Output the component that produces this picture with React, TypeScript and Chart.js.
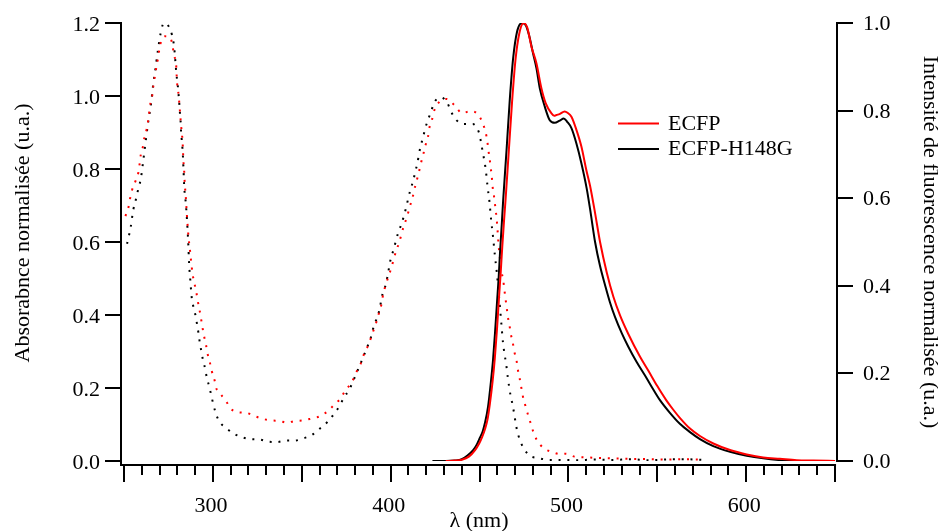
import React, { useEffect, useRef } from 'react';
import { Chart, registerables } from 'chart.js';

Chart.register(...registerables);

// ---------- DATA ----------
// Absorbance (left axis), ECFP (red dotted)
const absEcfpNm = [250.8, 252.5, 253.4, 254.5, 256.4, 258.1, 258.8, 259.4, 260.7, 261.5, 262.8, 263.7, 264.9, 266, 266.5, 267.3, 268.2, 269.1, 269.9, 271, 273.8, 276.1, 277.4, 278.1, 279.3, 279.8, 280.4, 280.9, 281.3, 281.7, 282.1, 282.6, 283, 283.2, 283.4, 283.8, 284, 284.3, 284.7, 285, 285.3, 286, 286.4, 287, 287.5, 288.6, 289.6, 290.7, 291.5, 292.4, 293.3, 294.1, 295, 296.1, 296.9, 298.3, 299.4, 300.9, 302, 304.2, 306.7, 308.5, 310, 313.6, 318.6, 323.5, 328.4, 333.3, 337.4, 341.7, 345.6, 350.4, 355.2, 359.9, 365, 368.4, 371.4, 374.5, 378.3, 380.4, 383, 384.7, 386.9, 388.8, 390.5, 392.2, 393.5, 395, 395.8, 397.2, 398.7, 400.4, 401.7, 403.2, 404.9, 406.2, 407.7, 409.4, 410.7, 412.3, 413.4, 414.7, 416, 417.1, 418.4, 419.6, 421, 421.8, 423.3, 424.6, 427.6, 431.5, 436.2, 440.2, 445, 449.4, 451.9, 453.5, 454.4, 455, 455.7, 456.3, 456.9, 457.3, 458, 458.6, 459.2, 459.7, 460.1, 460.4, 460.8, 461.6, 462.5, 463.4, 464, 464.6, 465.3, 465.9, 466.8, 467.6, 468.7, 469.6, 470.8, 471.5, 472.5, 473.4, 474.3, 475.6, 477, 478.6, 480.1, 482.2, 486.1, 490.8, 495.3, 498.5, 503.4, 510, 518, 525, 535, 545, 555, 565, 574];
const absEcfpVal = [0.671, 0.695, 0.719, 0.742, 0.766, 0.791, 0.815, 0.838, 0.863, 0.887, 0.91, 0.936, 0.982, 1.005, 1.028, 1.053, 1.079, 1.103, 1.128, 1.152, 1.164, 1.159, 1.135, 1.111, 1.087, 1.039, 1.016, 0.992, 0.968, 0.943, 0.919, 0.895, 0.87, 0.847, 0.823, 0.799, 0.775, 0.751, 0.727, 0.703, 0.679, 0.631, 0.607, 0.583, 0.558, 0.512, 0.487, 0.462, 0.438, 0.416, 0.391, 0.367, 0.343, 0.319, 0.296, 0.27, 0.246, 0.222, 0.198, 0.184, 0.168, 0.156, 0.144, 0.134, 0.132, 0.123, 0.115, 0.111, 0.11, 0.105, 0.109, 0.111, 0.116, 0.122, 0.138, 0.155, 0.169, 0.193, 0.217, 0.241, 0.265, 0.289, 0.312, 0.336, 0.36, 0.384, 0.407, 0.433, 0.458, 0.481, 0.505, 0.529, 0.553, 0.577, 0.6, 0.624, 0.648, 0.672, 0.696, 0.721, 0.745, 0.769, 0.794, 0.817, 0.841, 0.865, 0.888, 0.913, 0.936, 0.961, 0.985, 0.992, 0.973, 0.953, 0.959, 0.948, 0.924, 0.899, 0.875, 0.851, 0.827, 0.803, 0.779, 0.754, 0.731, 0.707, 0.683, 0.659, 0.636, 0.612, 0.588, 0.55, 0.516, 0.493, 0.468, 0.445, 0.42, 0.396, 0.373, 0.348, 0.324, 0.299, 0.276, 0.252, 0.228, 0.204, 0.179, 0.155, 0.131, 0.106, 0.082, 0.058, 0.035, 0.025, 0.019, 0.02, 0.012, 0.01, 0.008, 0.007, 0.006, 0.005, 0.004, 0.005, 0.004];

// Absorbance (left axis), ECFP-H148G (black dotted)
const absH148GNm = [251.7, 252.8, 253.8, 254.5, 255.3, 256.6, 258, 259.5, 261, 262.4, 263.7, 265.2, 266.3, 267.7, 269, 270.6, 271.8, 273.4, 275.1, 277, 278, 278.5, 278.9, 279.3, 279.8, 280.4, 280.8, 281.2, 281.5, 281.9, 282.1, 282.5, 282.9, 283.2, 283.4, 283.6, 283.8, 284.1, 284.7, 285.1, 285.4, 285.7, 286.2, 286.6, 287.3, 288.1, 289, 290.3, 291.1, 291.9, 292.6, 293.5, 294.4, 295.6, 296.5, 297.8, 299, 300.1, 301.5, 303.4, 307.6, 311.8, 316.5, 321.3, 326.3, 331.3, 336.2, 341.2, 346, 350.8, 355.6, 360.4, 364.3, 368.3, 371.3, 373.8, 376.6, 378.8, 380.9, 383, 385, 386.9, 388.8, 390.1, 391.8, 393.5, 395.4, 397.1, 398.2, 399.1, 400, 401.6, 402.9, 404.2, 406.1, 407.6, 408.9, 410, 411.3, 412.8, 413.9, 415.1, 416, 417.1, 418.4, 419.6, 421.3, 423, 425, 428.4, 432, 434, 437, 441.1, 446.2, 449.6, 450.7, 451.6, 452.5, 453.3, 453.9, 454.4, 455, 455.6, 456.5, 457.6, 458.6, 459.7, 460.6, 461.5, 462.3, 463.2, 464.2, 465, 465.9, 466.6, 467.4, 468.5, 469.4, 470.2, 471.1, 472.6, 474.7, 478.2, 483.3, 488.8, 495, 505, 515, 525, 535, 545, 555, 565, 575.5];
const absH148GVal = [0.595, 0.618, 0.642, 0.666, 0.69, 0.715, 0.745, 0.775, 0.83, 0.884, 0.932, 0.979, 1.027, 1.075, 1.123, 1.172, 1.195, 1.2, 1.191, 1.167, 1.142, 1.119, 1.094, 1.07, 1.046, 1.021, 0.997, 0.973, 0.95, 0.925, 0.901, 0.878, 0.854, 0.829, 0.806, 0.782, 0.758, 0.735, 0.71, 0.685, 0.662, 0.638, 0.59, 0.542, 0.495, 0.447, 0.423, 0.397, 0.374, 0.35, 0.325, 0.301, 0.277, 0.254, 0.23, 0.206, 0.182, 0.158, 0.133, 0.11, 0.09, 0.075, 0.065, 0.06, 0.059, 0.053, 0.052, 0.056, 0.056, 0.062, 0.071, 0.09, 0.106, 0.13, 0.151, 0.175, 0.194, 0.218, 0.242, 0.266, 0.29, 0.313, 0.337, 0.362, 0.386, 0.41, 0.457, 0.481, 0.505, 0.53, 0.553, 0.578, 0.602, 0.625, 0.649, 0.674, 0.698, 0.722, 0.746, 0.77, 0.794, 0.817, 0.843, 0.867, 0.89, 0.914, 0.938, 0.962, 0.986, 0.996, 0.98, 0.957, 0.934, 0.923, 0.923, 0.901, 0.877, 0.852, 0.828, 0.805, 0.781, 0.757, 0.733, 0.71, 0.661, 0.614, 0.565, 0.517, 0.47, 0.421, 0.375, 0.324, 0.289, 0.265, 0.229, 0.205, 0.181, 0.156, 0.132, 0.108, 0.084, 0.059, 0.036, 0.015, 0.008, 0.003, 0.003, 0.002, 0.004, 0.003, 0.005, 0.002, 0.004, 0.005, 0.003];

// Fluorescence emission (right axis), ECFP (red solid)
const emEcfpNm = [431, 436, 440, 444, 447.5, 449.8, 451.5, 453, 454.5, 455.8, 457.3, 458.6, 459.8, 460.9, 461.9, 462.8, 463.8, 464.7, 466.5, 468.3, 470.2, 472.3, 474.8, 476.8, 479.2, 482, 484.8, 487.2, 490.4, 492, 493.3, 495, 497.9, 499.5, 501.7, 504.5, 507.3, 510.1, 512.2, 515, 517.8, 521.6, 525.3, 529.1, 533.7, 540.3, 545, 550, 555, 559, 562.8, 568.4, 574, 581.5, 590.9, 600.3, 609.6, 619, 628.4, 637.8, 650];
const emEcfpVal = [0, 0.001, 0.003, 0.01, 0.025, 0.04, 0.055, 0.072, 0.095, 0.13, 0.18, 0.235, 0.3, 0.37, 0.43, 0.49, 0.55, 0.6, 0.71, 0.82, 0.915, 0.975, 1.0, 0.99, 0.946, 0.908, 0.851, 0.817, 0.794, 0.788, 0.79, 0.792, 0.798, 0.795, 0.786, 0.756, 0.718, 0.664, 0.628, 0.566, 0.5, 0.43, 0.375, 0.332, 0.29, 0.238, 0.206, 0.171, 0.139, 0.117, 0.098, 0.074, 0.057, 0.04, 0.025, 0.015, 0.008, 0.005, 0.002, 0.001, 0];

// Fluorescence emission (right axis), ECFP-H148G (black solid)
const emH148GNm = [423.5, 431, 436, 440, 443, 446.4, 448.5, 450.1, 451.8, 453, 454.8, 456.3, 457.6, 458.7, 459.8, 460.8, 461.5, 462.5, 463.3, 465.2, 467, 468.9, 471.1, 473.9, 476, 477.8, 480.1, 482, 483.9, 486.7, 489.5, 492.3, 495.1, 497.4, 499.2, 501.7, 504.5, 507.3, 510.3, 512.2, 515, 517.8, 520.6, 523.4, 526.2, 530, 533.7, 538.4, 543.1, 545.9, 551.5, 557.1, 562.7, 568.4, 574, 581.5, 590.9, 600.3, 609.6, 619, 628.4, 650];
const emH148GVal = [0, 0, 0.001, 0.004, 0.012, 0.025, 0.038, 0.052, 0.068, 0.086, 0.124, 0.177, 0.231, 0.292, 0.36, 0.421, 0.474, 0.54, 0.596, 0.71, 0.824, 0.919, 0.98, 1.0, 0.995, 0.973, 0.931, 0.897, 0.851, 0.809, 0.778, 0.772, 0.777, 0.782, 0.775, 0.76, 0.725, 0.68, 0.622, 0.575, 0.5, 0.445, 0.402, 0.362, 0.329, 0.292, 0.261, 0.226, 0.195, 0.176, 0.139, 0.11, 0.085, 0.066, 0.05, 0.034, 0.021, 0.012, 0.006, 0.002, 0, 0];

// Axis ticks / labels
const xMinorTicks = [250, 260, 270, 280, 290, 300, 310, 320, 330, 340, 350, 360, 370, 380, 390, 400, 410, 420, 430, 440, 450, 460, 470, 480, 490, 500, 510, 520, 530, 540, 550, 560, 570, 580, 590, 600, 610, 620, 630, 640, 650];
const xLabelTicks = [300, 400, 500, 600];
const yLeftTicks = [0, 0.2, 0.4, 0.6, 0.8, 1.0, 1.2];
const yRightTicks = [0, 0.2, 0.4, 0.6, 0.8, 1.0];
const seriesNames = ['ECFP', 'ECFP-H148G'];
const xTitle = 'λ (nm)';
const yLeftTitle = 'Absorabnce normalisée (u.a.)';
const yRightTitle = 'Intensité de fluorescence normalisée (u.a.)';

const FONT = '22px "Liberation Serif", "Times New Roman", serif';
const RED = '#ff0000';
const BLACK = '#000000';

function pts(xs: number[], ys: number[]) {
  return xs.map((x, i) => ({ x, y: ys[i] }));
}

export default function App() {
  const ref = useRef<HTMLCanvasElement>(null);

  useEffect(() => {
    if (!ref.current) return;

    const axesPlugin = {
      id: 'igorAxes',
      afterDraw(chart: any) {
        const ctx = chart.ctx as CanvasRenderingContext2D;
        const xs = chart.scales.x;
        const yl = chart.scales.y;
        const yr = chart.scales.y2;
        const area = chart.chartArea;
        const leftX = area.left;
        const rightX = area.right;
        const topY = yl.getPixelForValue(1.2);
        const zeroY = yl.getPixelForValue(0);
        const axisY = zeroY + 4;

        ctx.save();
        ctx.strokeStyle = BLACK;
        ctx.fillStyle = BLACK;
        ctx.lineWidth = 2;
        ctx.lineCap = 'butt';
        ctx.font = FONT;

        // left axis
        ctx.beginPath();
        ctx.moveTo(leftX, topY - 1);
        ctx.lineTo(leftX, axisY + 1);
        ctx.stroke();
        ctx.textAlign = 'right';
        ctx.textBaseline = 'alphabetic';
        yLeftTicks.forEach((v) => {
          const y = Math.round(yl.getPixelForValue(v));
          ctx.beginPath();
          ctx.moveTo(leftX - 16, y);
          ctx.lineTo(leftX, y);
          ctx.stroke();
          ctx.fillText(v.toFixed(1), leftX - 21, y + 7.5);
        });

        // right axis
        const rTop = yr.getPixelForValue(1.0);
        ctx.beginPath();
        ctx.moveTo(rightX, rTop - 1);
        ctx.lineTo(rightX, zeroY + 1);
        ctx.stroke();
        ctx.textAlign = 'left';
        yRightTicks.forEach((v) => {
          const y = Math.round(yr.getPixelForValue(v));
          ctx.beginPath();
          ctx.moveTo(rightX, y);
          ctx.lineTo(rightX + 16, y);
          ctx.stroke();
          ctx.fillText(v.toFixed(1), rightX + 26, y + 7);
        });

        // bottom axis
        const xEnd = xs.getPixelForValue(650);
        ctx.beginPath();
        ctx.moveTo(leftX - 1, axisY);
        ctx.lineTo(xEnd + 1, axisY);
        ctx.stroke();
        xMinorTicks.forEach((v) => {
          const x = Math.round(xs.getPixelForValue(v));
          const major = v % 50 === 0;
          ctx.beginPath();
          ctx.moveTo(x, axisY);
          ctx.lineTo(x, axisY + (major ? 17 : 10));
          ctx.stroke();
        });
        ctx.textAlign = 'center';
        xLabelTicks.forEach((v) => {
          const x = xs.getPixelForValue(v);
          ctx.fillText(String(v), x - 2, 512);
        });
        ctx.fillText(xTitle, (leftX + rightX) / 2, 527);

        // left title
        ctx.save();
        ctx.translate(29, 233);
        ctx.rotate(-Math.PI / 2);
        ctx.textAlign = 'center';
        ctx.fillText(yLeftTitle, 0, 0);
        ctx.restore();

        // right title
        ctx.save();
        ctx.translate(924, 242);
        ctx.rotate(Math.PI / 2);
        ctx.textAlign = 'center';
        ctx.fillText(yRightTitle, 0, 0);
        ctx.restore();

        // legend
        const legend = [
          { name: seriesNames[0], color: RED, y: 123.5, base: 129.5 },
          { name: seriesNames[1], color: BLACK, y: 149, base: 155 },
        ];
        legend.forEach((l) => {
          ctx.strokeStyle = l.color;
          ctx.beginPath();
          ctx.moveTo(618, l.y);
          ctx.lineTo(659, l.y);
          ctx.stroke();
          ctx.fillStyle = BLACK;
          ctx.textAlign = 'left';
          ctx.fillText(l.name, 668, l.base);
        });
        ctx.restore();
      },
    };

    const dotted = [2, 6.8];
    const chart = new Chart(ref.current, {
      type: 'scatter',
      data: {
        datasets: [
          {
            label: seriesNames[0] + ' émission',
            data: pts(emEcfpNm, emEcfpVal),
            yAxisID: 'y2',
            showLine: true,
            borderColor: RED,
            borderWidth: 2,
            pointRadius: 0,
            cubicInterpolationMode: 'monotone',
          },
          {
            label: seriesNames[1] + ' émission',
            data: pts(emH148GNm, emH148GVal),
            yAxisID: 'y2',
            showLine: true,
            borderColor: BLACK,
            borderWidth: 2,
            pointRadius: 0,
            cubicInterpolationMode: 'monotone',
          },
          {
            label: seriesNames[0] + ' absorbance',
            data: pts(absEcfpNm, absEcfpVal),
            yAxisID: 'y',
            showLine: true,
            borderColor: RED,
            borderWidth: 2,
            borderDash: dotted,
            pointRadius: 0,
            cubicInterpolationMode: 'monotone',
          },
          {
            label: seriesNames[1] + ' absorbance',
            data: pts(absH148GNm, absH148GVal),
            yAxisID: 'y',
            showLine: true,
            borderColor: BLACK,
            borderWidth: 2,
            borderDash: dotted,
            pointRadius: 0,
            cubicInterpolationMode: 'monotone',
          },
        ],
      },
      options: {
        animation: false,
        responsive: false,
        devicePixelRatio: 1,
        layout: { padding: { left: 121, right: 101, top: 23, bottom: 70 } },
        plugins: { legend: { display: false }, tooltip: { enabled: false } },
        scales: {
          x: { type: 'linear', min: 248.3, max: 651.1, display: false },
          y: { type: 'linear', min: 0, max: 1.2, display: false },
          y2: { type: 'linear', min: 0, max: 1.0, display: false, position: 'right' },
        },
      },
      plugins: [axesPlugin],
    } as any);

    return () => chart.destroy();
  }, []);

  return (
    <div style={{ position: 'fixed', left: 0, top: 0, width: 938, height: 531, background: '#ffffff' }}>
      <canvas ref={ref} width={938} height={531} style={{ display: 'block', width: 938, height: 531 }} />
    </div>
  );
}
